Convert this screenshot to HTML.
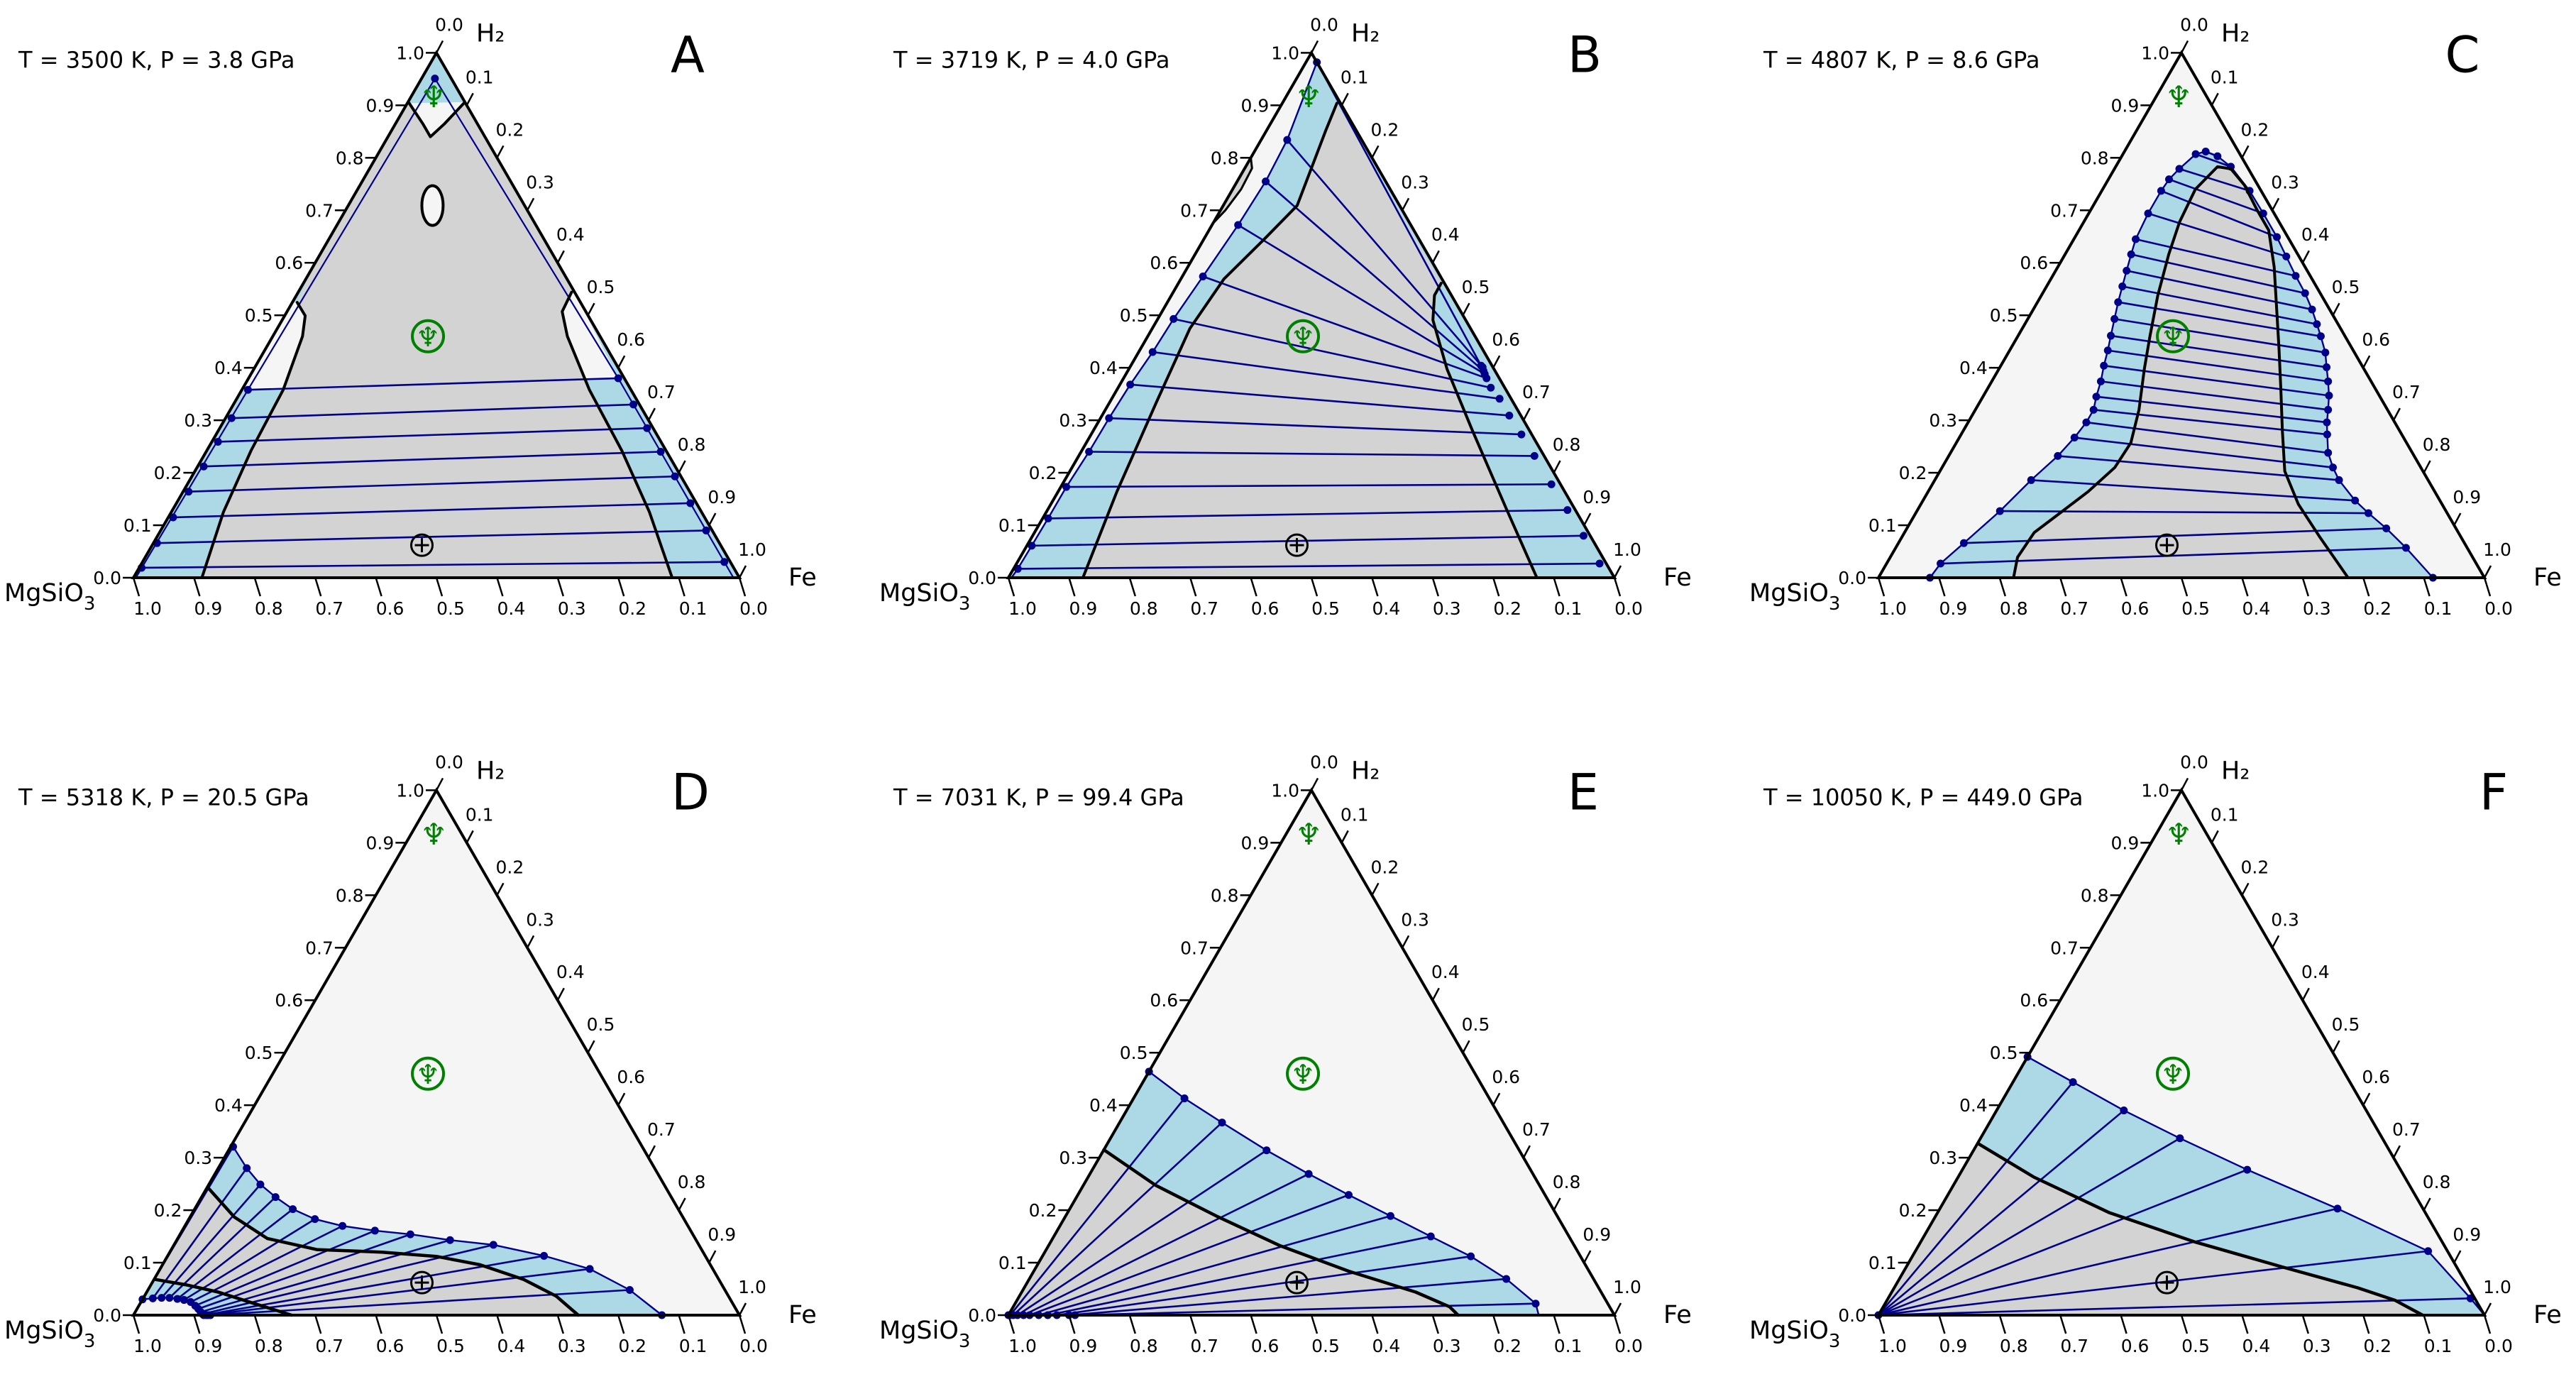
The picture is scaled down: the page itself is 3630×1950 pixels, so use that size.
<!DOCTYPE html>
<html><head><meta charset="utf-8">
<style>
html,body{margin:0;padding:0;background:#fff;}
svg{display:block;}
text{font-family:"DejaVu Sans","Liberation Sans",sans-serif;}
</style></head>
<body>
<svg id="fig" xmlns="http://www.w3.org/2000/svg" width="3630" height="1950" viewBox="0 0 3630 1950">
<rect x="0" y="0" width="3630" height="1950" fill="#ffffff"/>
</svg>
<script>
// ===== data: compositions as [Fe fraction, H2 fraction] =====
var tickValues = [0.0,0.1,0.2,0.3,0.4,0.5,0.6,0.7,0.8,0.9,1.0];
var panelIds = ["A","B","C","D","E","F"];
var panelTitles = ["T = 3500 K, P = 3.8 GPa","T = 3719 K, P = 4.0 GPa","T = 4807 K, P = 8.6 GPa","T = 5318 K, P = 20.5 GPa","T = 7031 K, P = 99.4 GPa","T = 10050 K, P = 449.0 GPa"];
var markerNeptune = [0.256,0.46];
var markerNeptuneSmall = [0.037,0.917];
var markerEarth = [0.445,0.062];

// Panel A
var A_binodal = [[0,0],[1,0],[0,1]];
var A_spinodalLeft = [[0.113,0],[0.086,0.125],[0.073,0.242],[0.068,0.3585],[0.049,0.46],[0.034,0.499],[0.008,0.5245]];
var A_spinodalRight = [[0.451,0.544],[0.454,0.507],[0.486,0.46],[0.573,0.3585],[0.685,0.242],[0.789,0.125],[0.889,0]];
var A_cup = [[0.003,0.904],[0.045,0.865],[0.07,0.84],[0.081,0.865],[0.094,0.906]];
var A_pocketLeft = [[0,0.358],[0.068,0.3585],[0.049,0.46],[0.034,0.499],[0.008,0.5245],[0,0.5245]];
var A_pocketRight = [[0.61,0.38],[0.555,0.38],[0.486,0.46],[0.454,0.507],[0.451,0.544],[0.456,0.544]];
var A_bubble = [0.139,0.709];
var A_tieLeft = [[0.01,0.358],[0.01,0.304],[0.01,0.259],[0.01,0.212],[0.009,0.164],[0.008,0.115],[0.006,0.066],[0.004,0.019]];
var A_tieRight = [[0.61,0.38],[0.66,0.33],[0.705,0.285],[0.75,0.24],[0.797,0.193],[0.848,0.142],[0.9,0.09],[0.96,0.03]];
var A_innerApex = [0.022,0.951];

// Panel B
var B_tieLeft = [[0.018,0.982],[0.043,0.834],[0.047,0.755],[0.043,0.672],[0.034,0.574],[0.026,0.493],[0.023,0.43],[0.017,0.368],[0.014,0.304],[0.013,0.24],[0.009,0.173],[0.009,0.113],[0.008,0.061],[0.007,0.017]];
var B_tieRight = [[0.578,0.404],[0.582,0.401],[0.587,0.394],[0.592,0.388],[0.599,0.38],[0.615,0.362],[0.64,0.341],[0.672,0.309],[0.71,0.273],[0.752,0.232],[0.807,0.178],[0.858,0.129],[0.909,0.08],[0.962,0.027]];
var B_spinodalLeft = [[0.123,0],[0.097,0.164],[0.077,0.335],[0.062,0.475],[0.071,0.569],[0.099,0.643],[0.122,0.709],[0.11,0.779],[0.098,0.85],[0.09,0.904]];
var B_spinodalRight = [[0.4335,0.561],[0.434,0.538],[0.455,0.491],[0.525,0.3975],[0.625,0.281],[0.755,0.1325],[0.872,0]];
var B_lens = [[0,0.8],[0.012,0.78],[0.014,0.74],[0.008,0.7],[0,0.675]];

// Panel C
var C_binodalLeft = [[0.085,0],[0.089,0.027],[0.108,0.066],[0.137,0.127],[0.159,0.186],[0.18,0.232],[0.19,0.267],[0.195,0.296],[0.195,0.32],[0.187,0.345],[0.18,0.374],[0.17,0.404],[0.162,0.433],[0.153,0.461],[0.143,0.493],[0.133,0.525],[0.125,0.555],[0.117,0.585],[0.109,0.616],[0.102,0.645],[0.098,0.694],[0.098,0.737],[0.10,0.759],[0.107,0.779],[0.12,0.807],[0.134,0.812]];
var C_binodalRight = [[0.158,0.803],[0.19,0.783],[0.244,0.737],[0.288,0.694],[0.333,0.649],[0.367,0.612],[0.401,0.575],[0.433,0.542],[0.46,0.511],[0.482,0.483],[0.50,0.46],[0.523,0.429],[0.539,0.401],[0.555,0.374],[0.57,0.347],[0.582,0.32],[0.592,0.296],[0.604,0.273],[0.623,0.238],[0.645,0.21],[0.667,0.186],[0.713,0.147],[0.747,0.123],[0.791,0.094],[0.842,0.057],[0.915,0]];
var C_tieLeft = [[0.089,0.027],[0.108,0.066],[0.137,0.127],[0.159,0.186],[0.18,0.232],[0.19,0.267],[0.195,0.296],[0.195,0.32],[0.187,0.345],[0.18,0.374],[0.17,0.404],[0.162,0.433],[0.153,0.461],[0.143,0.493],[0.133,0.525],[0.125,0.555],[0.117,0.585],[0.109,0.616],[0.102,0.645],[0.098,0.694],[0.098,0.737],[0.10,0.759],[0.107,0.779],[0.12,0.807],[0.134,0.812]];
var C_tieRight = [[0.842,0.057],[0.791,0.094],[0.747,0.123],[0.713,0.147],[0.667,0.186],[0.645,0.21],[0.623,0.238],[0.604,0.273],[0.592,0.296],[0.582,0.32],[0.57,0.347],[0.555,0.374],[0.539,0.401],[0.523,0.429],[0.50,0.46],[0.482,0.483],[0.46,0.511],[0.433,0.542],[0.401,0.575],[0.367,0.612],[0.333,0.649],[0.288,0.694],[0.244,0.737],[0.19,0.783],[0.158,0.803]];
var C_spinodal = [[0.223,0],[0.21,0.039],[0.214,0.086],[0.239,0.125],[0.264,0.164],[0.285,0.21],[0.288,0.257],[0.27,0.32],[0.24,0.3975],[0.218,0.46],[0.192,0.538],[0.171,0.616],[0.158,0.678],[0.153,0.74],[0.168,0.783],[0.192,0.779],[0.23,0.748],[0.275,0.70],[0.313,0.662],[0.357,0.592],[0.40,0.514],[0.443,0.436],[0.485,0.358],[0.526,0.281],[0.569,0.203],[0.623,0.14],[0.689,0.078],[0.775,0]];

// Panel D
var D_tieOuter = [[0.004,0.321],[0.047,0.28],[0.085,0.249],[0.122,0.225],[0.162,0.202],[0.208,0.183],[0.26,0.17],[0.318,0.161],[0.38,0.154],[0.451,0.143],[0.527,0.134],[0.621,0.113],[0.709,0.088],[0.795,0.048],[0.872,0]];
var D_tieInner = [[0.0,0.03],[0.016,0.032],[0.03,0.033],[0.043,0.033],[0.057,0.031],[0.069,0.029],[0.082,0.025],[0.093,0.018],[0.101,0.012],[0.108,0.006],[0.113,0.002],[0.116,0],[0.12,0],[0.123,0],[0.127,0]];
var D_spinodalUpper = [[0.004,0.241],[0.073,0.187],[0.148,0.146],[0.24,0.125],[0.35,0.12],[0.444,0.112],[0.524,0.096],[0.61,0.068],[0.68,0.036],[0.734,0]];
var D_spinodalLower = [[0.002,0.068],[0.057,0.058],[0.118,0.044],[0.182,0.024],[0.261,0]];

// Panel E
var E_tieOuter = [[0,0.464],[0.084,0.413],[0.169,0.367],[0.269,0.314],[0.361,0.269],[0.447,0.229],[0.536,0.189],[0.622,0.15],[0.707,0.112],[0.787,0.069],[0.859,0.022]];
var E_tieInner = [[0,0],[0.003,0],[0.008,0],[0.015,0],[0.025,0],[0.035,0],[0.05,0],[0.065,0],[0.08,0],[0.1,0],[0.11,0]];
var E_spinodal = [[0,0.315],[0.12,0.247],[0.253,0.187],[0.383,0.132],[0.519,0.084],[0.65,0.044],[0.72,0.016],[0.742,0]];

// Panel F
var F_tieOuter = [[0,0.492],[0.099,0.444],[0.21,0.39],[0.329,0.337],[0.47,0.277],[0.656,0.203],[0.846,0.122],[0.961,0.032]];
var F_spinodal = [[0.001,0.327],[0.125,0.263],[0.284,0.195],[0.454,0.139],[0.62,0.092],[0.765,0.052],[0.839,0.028],[0.898,0]];

// ===== layout =====
var S = 854, HT = S*0.8660254;
var panelLeft = [188,1421,2647,188,1421,2647];
var panelBase = [814,814,814,1853,1853,1853];
var letterOffset = [781,812,823,785,810,867];

var NS = "http://www.w3.org/2000/svg";
var svg = document.getElementById("fig");
var BLUE="#add8e6", NAVY="#00008b", GRAY="#d3d3d3", OUT="#f5f5f5", GREEN="#008000";

function mk(tag, attrs, parent){
  var e=document.createElementNS(NS,tag);
  for(var k in attrs) e.setAttribute(k,attrs[k]);
  (parent||svg).appendChild(e); return e;
}
function X(p,f,h){ return panelLeft[p] + S*(f + h/2); }
function Y(p,f,h){ return panelBase[p] - HT*h; }
function pts(p,arr){ return arr.map(function(c){return X(p,c[0],c[1]).toFixed(1)+","+Y(p,c[0],c[1]).toFixed(1);}).join(" "); }
function poly(g,p,arr,fill,stroke,sw,name){
  var e=mk("polygon",{points:pts(p,arr),fill:fill,stroke:stroke||"none","stroke-width":sw||0,"stroke-linejoin":"round"},g);
  
  
  return e;
}
function line(g,p,arr,stroke,sw,name){
  var e=mk("polyline",{points:pts(p,arr),fill:"none",stroke:stroke,"stroke-width":sw,"stroke-linejoin":"round","stroke-linecap":"round"},g);
  
  
  return e;
}
function dot(g,p,c,name){
  var e=mk("circle",{cx:X(p,c[0],c[1]),cy:Y(p,c[0],c[1]),r:5.5,fill:NAVY},g);
  
  
}
function ties(g,p,a,b){
  for(var i=0;i<a.length;i++){
    var e=mk("line",{x1:X(p,a[i][0],a[i][1]),y1:Y(p,a[i][0],a[i][1]),x2:X(p,b[i][0],b[i][1]),y2:Y(p,b[i][0],b[i][1]),stroke:NAVY,"stroke-width":2.6},g);
    
    
  }
}
var TRI=[[0,0],[1,0],[0,1]];
function rev(a){ return a.slice().reverse(); }

function panel(p){
  var g=mk("g",{});
  
  
  poly(g,p,TRI,OUT,null,0,'triangle-background');
  var id=panelIds[p];
  if(id==="A"){
    poly(g,p,A_binodal,BLUE,null,0,'binodal-region');
    var gr=A_spinodalLeft.concat([[0,0.6],[0,0.904]],A_cup,[[0.456,0.544]],A_spinodalRight);
    poly(g,p,gr,GRAY,null,0,'spinodal-region');
    poly(g,p,[[0,0.904],[0.094,0.906],[0.06,0.94],[0.022,0.955]],BLUE,null,0,'top-blue-region');
    poly(g,p,A_pocketLeft,OUT,null,0,'left-pocket');
    poly(g,p,A_pocketRight,OUT,null,0,'right-pocket');
    poly(g,p,A_cup,OUT,null,0,'top-pocket');
    poly(g,p,[[0,0],[0.01,0.358],[0.068,0.3585],[0.073,0.242],[0.086,0.125],[0.113,0]],BLUE,null,0,'left-blue-strip');
    poly(g,p,[[1,0],[0.61,0.38],[0.555,0.38],[0.573,0.3585],[0.685,0.242],[0.789,0.125],[0.889,0]],BLUE,null,0,'right-blue-strip');
    line(g,p,[[0.01,0.358],A_innerApex,[0.61,0.38]],NAVY,2.2,'binodal-inner-line');
    line(g,p,[[0.004,0.0],[0.01,0.358]],NAVY,2.2,'binodal-left');
    line(g,p,[[0.99,0],[0.61,0.38]],NAVY,2.2,'binodal-right');
    line(g,p,[[0,0],[1,0]],NAVY,4,'binodal-base');
    ties(g,p,A_tieLeft,A_tieRight);
    A_tieLeft.forEach(function(c){dot(g,p,c,'tie-end-left');});
    A_tieRight.forEach(function(c){dot(g,p,c,'tie-end-right');});
    dot(g,p,A_innerApex,'tie-end-top');
    line(g,p,A_spinodalLeft,"#000",4,'spinodal-left');
    line(g,p,A_spinodalRight,"#000",4,'spinodal-right');
    line(g,p,A_cup,"#000",4,'spinodal-top');
    var e=mk("ellipse",{cx:X(p,A_bubble[0],A_bubble[1]),cy:Y(p,A_bubble[0],A_bubble[1]),rx:15,ry:28,fill:OUT,stroke:"#000","stroke-width":4},g);
    
    
  } else if(id==="B"){
    var bl=[[0.005,0]].concat(rev(B_tieLeft),[[0.01,0.99],[0,1],[1,0]]);
    poly(g,p,bl,BLUE,null,0,'binodal-region');
    var sg=B_spinodalLeft.concat(B_spinodalRight);
    poly(g,p,sg,GRAY,null,0,'spinodal-region');
    poly(g,p,B_lens,GRAY,"#000",3,'spinodal-lens');
    line(g,p,[[0.005,0]].concat(rev(B_tieLeft),[[0,1]]),NAVY,2.4,'binodal-left');
    line(g,p,[[0,1],[1,0]],NAVY,3,'binodal-right');
    line(g,p,[[0,0],[1,0]],NAVY,4,'binodal-base');
    ties(g,p,B_tieLeft,B_tieRight);
    B_tieLeft.forEach(function(c){dot(g,p,c,'tie-end-left');});
    B_tieRight.forEach(function(c){dot(g,p,c,'tie-end-right');});
    line(g,p,B_spinodalLeft,"#000",4,'spinodal-left');
    line(g,p,B_spinodalRight,"#000",4,'spinodal-right');
  } else if(id==="C"){
    var bc=C_binodalLeft.concat(C_binodalRight);
    poly(g,p,bc,BLUE,NAVY,2.4,'binodal-region');
    poly(g,p,C_spinodal,GRAY,null,0,'spinodal-region');
    line(g,p,[[0.085,0],[0.915,0]],NAVY,4,'binodal-base');
    ties(g,p,C_tieLeft,C_tieRight);
    bc.forEach(function(c){dot(g,p,c,'binodal-point');});
    line(g,p,C_spinodal,"#000",4,'spinodal-curve');
  } else if(id==="D"){
    var bd=D_tieInner.concat([[0.872,0]],rev(D_tieOuter),[[0,0.32]]);
    poly(g,p,bd,BLUE,NAVY,2.4,'binodal-region');
    var gd=D_spinodalUpper.concat(rev(D_spinodalLower));
    poly(g,p,gd,GRAY,null,0,'spinodal-region');
    line(g,p,[[0,0],[0,0.32]],NAVY,3,'binodal-left');
    ties(g,p,D_tieInner,D_tieOuter);
    D_tieOuter.forEach(function(c){dot(g,p,c,'tie-end-outer');});
    D_tieInner.forEach(function(c){dot(g,p,c,'tie-end-inner');});
    line(g,p,D_spinodalUpper,"#000",4.5,'spinodal-upper');
    line(g,p,D_spinodalLower,"#000",4.5,'spinodal-lower');
  } else if(id==="E"){
    var be=[[0,0]].concat(E_tieOuter,[[0.875,0]]);
    poly(g,p,be,BLUE,NAVY,2.4,'binodal-region');
    poly(g,p,[[0,0]].concat(E_spinodal),GRAY,null,0,'spinodal-region');
    line(g,p,[[0,0],[0.875,0]],NAVY,4,'binodal-base');
    ties(g,p,E_tieInner,E_tieOuter);
    E_tieOuter.forEach(function(c){dot(g,p,c,'tie-end-outer');});
    E_tieInner.forEach(function(c){dot(g,p,c,'tie-end-inner');});
    line(g,p,E_spinodal,"#000",4.5,'spinodal-curve');
  } else {
    var bf=[[0,0]].concat(F_tieOuter,[[1,0]]);
    poly(g,p,bf,BLUE,NAVY,2.4,'binodal-region');
    poly(g,p,[[0,0]].concat(F_spinodal),GRAY,null,0,'spinodal-region');
    line(g,p,[[0,0],[1,0]],NAVY,4,'binodal-base');
    for(var i=0;i<F_tieOuter.length;i++) ties(g,p,[[0,0]],[F_tieOuter[i]]);
    F_tieOuter.forEach(function(c){dot(g,p,c,'tie-end-outer');});
    dot(g,p,[0,0],'tie-end-corner');
    line(g,p,F_spinodal,"#000",4.5,'spinodal-curve');
  }
  var ed=mk("polygon",{points:pts(p,TRI),fill:"none",stroke:"#000","stroke-width":4,"stroke-linejoin":"miter"},g);
  
  
  tickValues.forEach(function(v){
    var lx=X(p,0,v), ly=Y(p,0,v);
    var t=mk("line",{x1:lx,y1:ly,x2:lx-15,y2:ly,stroke:"#000","stroke-width":2.5},g);
    
    
    var tx=mk("text",{x:lx-17,y:ly+9,"font-size":25,"text-anchor":"end",fill:"#000"},g);
    tx.textContent=v.toFixed(1);
    
    
    var rx=X(p,v,1-v), ry=Y(p,v,1-v);
    var t2=mk("line",{x1:rx,y1:ry,x2:rx+9,y2:ry-17,stroke:"#000","stroke-width":2.5},g);
    
    
    var tx2=mk("text",{x:rx+18,y:ry-31,"font-size":25,"text-anchor":"middle",fill:"#000"},g);
    tx2.textContent=v.toFixed(1);
    
    
    var bx=X(p,1-v,0), by=Y(p,1-v,0);
    var t3=mk("line",{x1:bx,y1:by,x2:bx+8,y2:by+26,stroke:"#000","stroke-width":2.5},g);
    
    
    var tx3=mk("text",{x:bx+20,y:by+52,"font-size":25,"text-anchor":"middle",fill:"#000"},g);
    tx3.textContent=v.toFixed(1);
    
    
  });
  var L=panelLeft[p], B=panelBase[p];
  var h2=mk("text",{x:L+S/2+56,y:B-HT-16,"font-size":35,fill:"#000"},g);
  h2.textContent="H₂";
  
  
  var fe=mk("text",{x:L+S+69,y:B+11,"font-size":35,fill:"#000"},g);
  fe.textContent="Fe";
  
  
  var mg=mk("text",{x:L-182,y:B+33,"font-size":35,fill:"#000"},g);
  
  
  mg.appendChild(document.createTextNode("MgSiO"));
  var sub=mk("tspan",{"font-size":26,dy:12},mg); sub.textContent="3";
  var ti=mk("text",{x:L-162,y:B-HT+21,"font-size":32,fill:"#000"},g);
  ti.textContent=panelTitles[p];
  
  
  var le=mk("text",{x:L+letterOffset[p],y:B-HT+27,"font-size":70,"text-anchor":"middle",fill:"#000","font-family":"Liberation Sans, sans-serif"},g);
  le.textContent=panelIds[p];
  
  
  var nx=X(p,markerNeptune[0],markerNeptune[1]), ny=Y(p,markerNeptune[0],markerNeptune[1]);
  var c1=mk("circle",{cx:nx,cy:ny,r:22,fill:"none",stroke:GREEN,"stroke-width":4},g);
  
  
  var n1=mk("text",{x:nx,y:ny+14,"font-size":38,"text-anchor":"middle",fill:GREEN},g);
  n1.textContent="♆";
  
  
  var sx=X(p,markerNeptuneSmall[0],markerNeptuneSmall[1]), sy=Y(p,markerNeptuneSmall[0],markerNeptuneSmall[1]);
  var n2=mk("text",{x:sx,y:sy+15,"font-size":42,"text-anchor":"middle",fill:GREEN},g);
  n2.textContent="♆";
  
  
  var ex=X(p,markerEarth[0],markerEarth[1]), ey=Y(p,markerEarth[0],markerEarth[1]);
  var eg=mk("g",{},g);
  
  
  mk("circle",{cx:ex,cy:ey,r:15,fill:"none",stroke:"#000","stroke-width":3},eg);
  mk("line",{x1:ex-10,y1:ey,x2:ex+10,y2:ey,stroke:"#000","stroke-width":3},eg);
  mk("line",{x1:ex,y1:ey-10,x2:ex,y2:ey+10,stroke:"#000","stroke-width":3},eg);
}
for(var p=0;p<6;p++) panel(p);
</script>
</body></html>
